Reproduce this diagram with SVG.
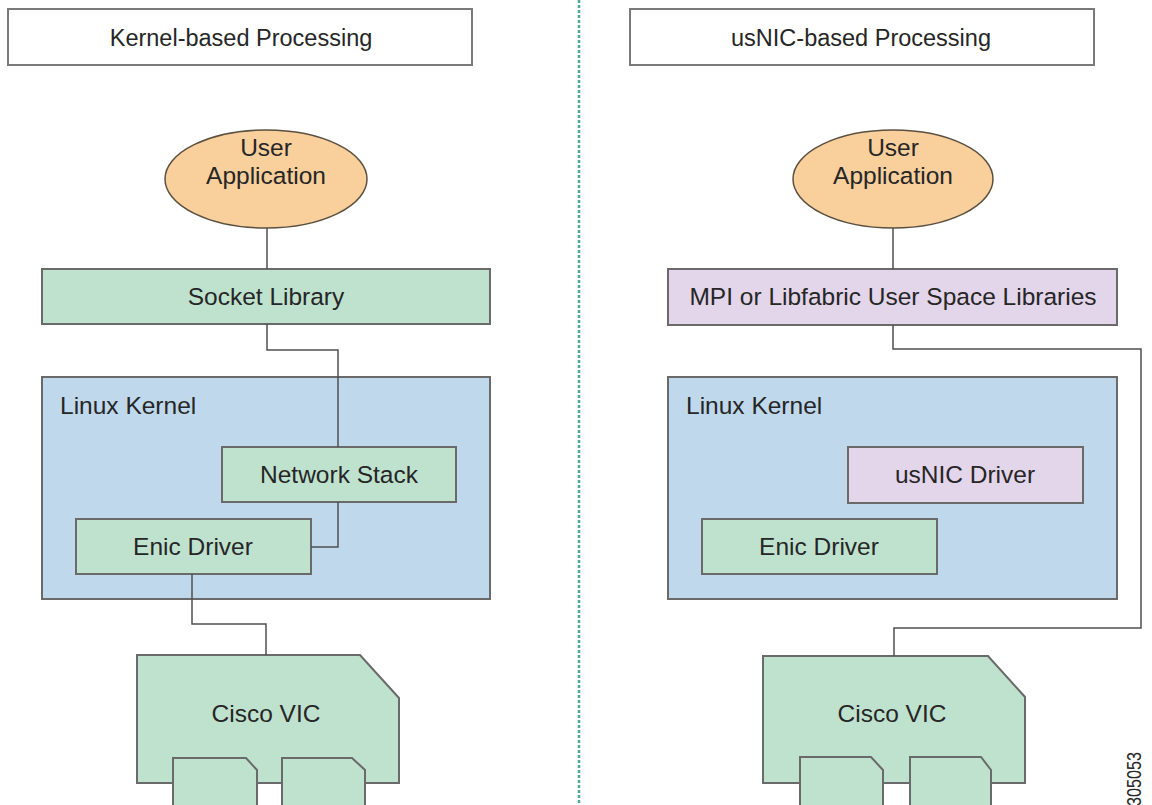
<svg xmlns="http://www.w3.org/2000/svg" width="1152" height="805" viewBox="0 0 1152 805">
<style>
text{font-family:"Liberation Sans",Arial,sans-serif;fill:#262626;}
.t{font-size:23.5px;text-anchor:middle;}
.b{font-size:24.5px;text-anchor:middle;}
.l{font-size:24.5px;}
.title{fill:#ffffff;stroke:#7a7a7a;stroke-width:2;}
.grn{fill:#bfe2cf;stroke:#6a6a6a;stroke-width:2;}
.blu{fill:#bfd8ec;stroke:#6a6a6a;stroke-width:2;}
.pur{fill:#e3d5ea;stroke:#6a6a6a;stroke-width:2;}
.ell{fill:#f9cf9c;stroke:#5a5040;stroke-width:1.5;}
.con{fill:none;stroke:#505050;stroke-width:1.5;}
</style>
<rect width="1152" height="805" fill="#ffffff"/>
<line x1="579" y1="0" x2="579" y2="805" stroke="#4fa995" stroke-width="2.5" stroke-dasharray="3 2"/>

<g id="title-left"><rect class="title" x="8" y="9" width="464" height="56"/><text class="t" x="241" y="46">Kernel-based Processing</text></g>
<g id="title-right"><rect class="title" x="630" y="9" width="464" height="56"/><text class="t" x="861" y="46">usNIC-based Processing</text></g>

<g id="user-app-left"><ellipse class="ell" cx="266" cy="179" rx="101" ry="49"/><text class="b" x="266" y="156">User</text><text class="b" x="266" y="184">Application</text></g>
<g id="user-app-right"><ellipse class="ell" cx="893" cy="179" rx="100" ry="49"/><text class="b" x="893" y="156">User</text><text class="b" x="893" y="184">Application</text></g>

<g id="socket-library"><rect class="grn" x="42" y="269" width="448" height="55"/><text class="b" x="266" y="305">Socket Library</text></g>
<g id="mpi-libs"><rect class="pur" x="668" y="269" width="449" height="56"/><text class="b" x="893" y="305">MPI or Libfabric User Space Libraries</text></g>

<g id="kernel-left"><rect class="blu" x="42" y="377" width="448" height="222"/><text class="l" x="60" y="414">Linux Kernel</text></g>
<g id="network-stack"><rect class="grn" x="222" y="447" width="234" height="55"/><text class="b" x="339" y="483">Network Stack</text></g>
<g id="enic-left"><rect class="grn" x="76" y="519" width="235" height="55"/><text class="b" x="193" y="555">Enic Driver</text></g>

<g id="kernel-right"><rect class="blu" x="668" y="377" width="449" height="222"/><text class="l" x="686" y="414">Linux Kernel</text></g>
<g id="usnic-driver"><rect class="pur" x="848" y="447" width="235" height="56"/><text class="b" x="965" y="483">usNIC Driver</text></g>
<g id="enic-right"><rect class="grn" x="702" y="519" width="235" height="55"/><text class="b" x="819" y="555">Enic Driver</text></g>

<g id="vic-left">
<path class="grn" d="M137,655 H360 L399,698 V783 H137 Z"/>
<path class="grn" d="M173,807 V758 H246 L257,770 V807"/>
<path class="grn" d="M282,807 V758 H352 L365,770 V807"/>
<text class="b" x="266" y="722">Cisco VIC</text>
</g>
<g id="vic-right">
<path class="grn" d="M763,656 H988 L1025,697 V783 H763 Z"/>
<path class="grn" d="M800,807 V757 H871 L883,770 V807"/>
<path class="grn" d="M910,807 V757 H981 L991,770 V807"/>
<text class="b" x="892" y="722">Cisco VIC</text>
</g>

<g id="connectors">
<path class="con" d="M267,228 V269"/>
<path class="con" d="M267,324 V350 H338 V447"/>
<path class="con" d="M338,502 V547 H311"/>
<path class="con" d="M192,574 V624 H266 V655"/>
<path class="con" d="M893,228 V269"/>
<path class="con" d="M893,325 V349 H1141 V628 H894 V656"/>
</g>

<text x="0" y="0" font-size="21" text-anchor="middle" textLength="54" lengthAdjust="spacingAndGlyphs" transform="translate(1141,779) rotate(-90)">305053</text>
</svg>
